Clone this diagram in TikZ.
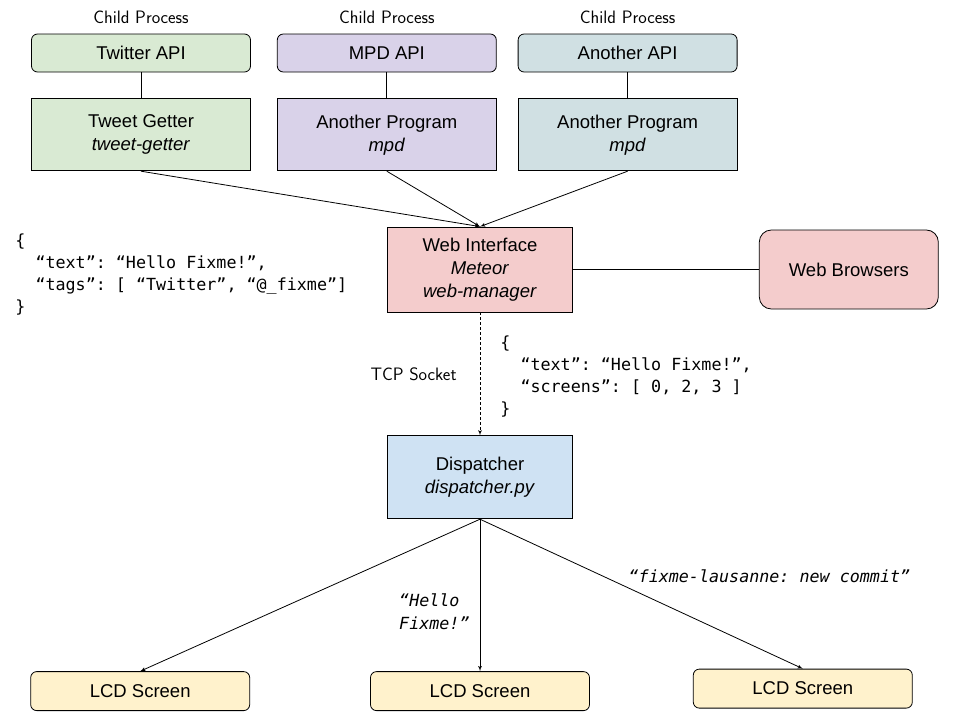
\documentclass[tikz,border=0pt]{standalone}
\usepackage{fontspec}
\setmainfont{Liberation Sans}
\setmonofont{DejaVu Sans Mono}
\usepackage{tikz}
\usetikzlibrary{shapes,arrows, positioning}

\definecolor{twgreen}{HTML}{D9EAD3}
\definecolor{mpdpurple}{HTML}{D9D2E9}
\definecolor{othgrey}{HTML}{D0E0E3}
\definecolor{webred}{HTML}{F4CCCC}
\definecolor{dspblue}{HTML}{CFE2F3}
\definecolor{lcdyellow}{HTML}{FFF2CC}

\begin{document}
\begin{tikzpicture}[%
    ,x=1pt,y=-1pt
    ,>=latex'
    ,line width=0.8pt
    ,block/.style = {%
        ,draw
        ,minimum height=72pt,minimum width=219pt
        ,inner sep=0pt
        ,align=center
        ,font=\fontsize{18.5}{23}\selectfont
        }
    ,api/.style = {block, rounded corners=6pt, minimum height=38pt}
    ,lcd/.style = {api, fill=lcdyellow, minimum height=39pt}
    ,code/.style = {align=left, inner sep=0pt, font=\ttfamily\fontsize{16.7}{22}\selectfont}
    ,hand/.style = {inner sep=0pt, font=\sffamily\fontsize{18}{20}\selectfont}
    ]
\useasboundingbox (0,0) rectangle (960,720);

\node (tapi) [api, fill=twgreen] at (141,53) {Twitter API};
\node (mapi) [api, fill=mpdpurple, right=26pt of tapi] {MPD API};
\node (aapi) [api, fill=othgrey, right=21pt of mapi] {Another API};
\node (tg)  [block, fill=twgreen, below=26pt of tapi] {Tweet Getter\\\textit{tweet-getter}};
\node (ap1) [block, fill=mpdpurple, below=26pt of mapi] {Another Program\\\textit{mpd}};
\node (ap2) [block, fill=othgrey, below=26pt of aapi] {Another Program\\\textit{mpd}};

\node (wi) [block, fill=webred, minimum width=185pt, minimum height=85pt] at (480,269.5)
    {Web Interface\\\textit{Meteor}\\\textit{web-manager}};
\node (wb) [block, fill=webred, rounded corners=12pt, minimum width=179pt, minimum height=79pt,
    right=186pt of wi] {Web Browsers};
\node (dsp) [block, fill=dspblue, minimum width=185pt, minimum height=83pt, below=123pt of wi]
    {Dispatcher\\\textit{dispatcher.py}};

\node (lcd2) [lcd, below=152pt of dsp] {LCD Screen};
\node (lcd1) [lcd, left=120pt of lcd2] {LCD Screen};
\node (lcd3) [lcd, right=103pt of lcd2, yshift=2.5pt] {LCD Screen};

\foreach \a [count=\i from 1] in {tapi,mapi,aapi}
    \node (cp\i) [hand, above=10pt of \a] {Child Process};

% Tweet data
\node (tjs) [code, anchor=north west] at (15,233)
    {\{\\
    \phantom{xx}“text”: “Hello Fixme!”,\\
    \phantom{xx}“tags”: [ “Twitter”, “@\_fixme”]\\
    \}};

\foreach \a/\p in {tapi/tg, mapi/ap1, aapi/ap2}
    \draw (\a) -- (\p);
\foreach \p in {tg,ap1,ap2}
    \draw[->] (\p.south) -- (wi.north);
\draw (wi) -- (wb);

\draw[->, dash pattern=on 3pt off 2pt] (wi) -- (dsp)
    node (tcp) [hand, midway, left=23pt] {TCP Socket}
    node (djs) [code, midway, right=20pt, yshift=-3pt]
    {\{\\
    \phantom{xx}“text”: “Hello Fixme!”,\\
    \phantom{xx}“screens”: [ 0, 2, 3 ]\\
    \}};

\draw[->] (dsp.south) -- (lcd1.north);
\draw[->] (dsp) -- (lcd2)
    node (hf) [code, pos=0.61, left=10pt, font=\ttfamily\itshape\fontsize{16.7}{23}\selectfont]
    {“Hello\\Fixme!”};
\draw[->] (dsp.south) -- (lcd3.north)
    node (flc) [code, pos=0.45, anchor=south west, inner sep=3pt, font=\ttfamily\itshape\fontsize{16.7}{22}\selectfont]
    {“fixme-lausanne: new commit”};
\end{tikzpicture}
\end{document}
